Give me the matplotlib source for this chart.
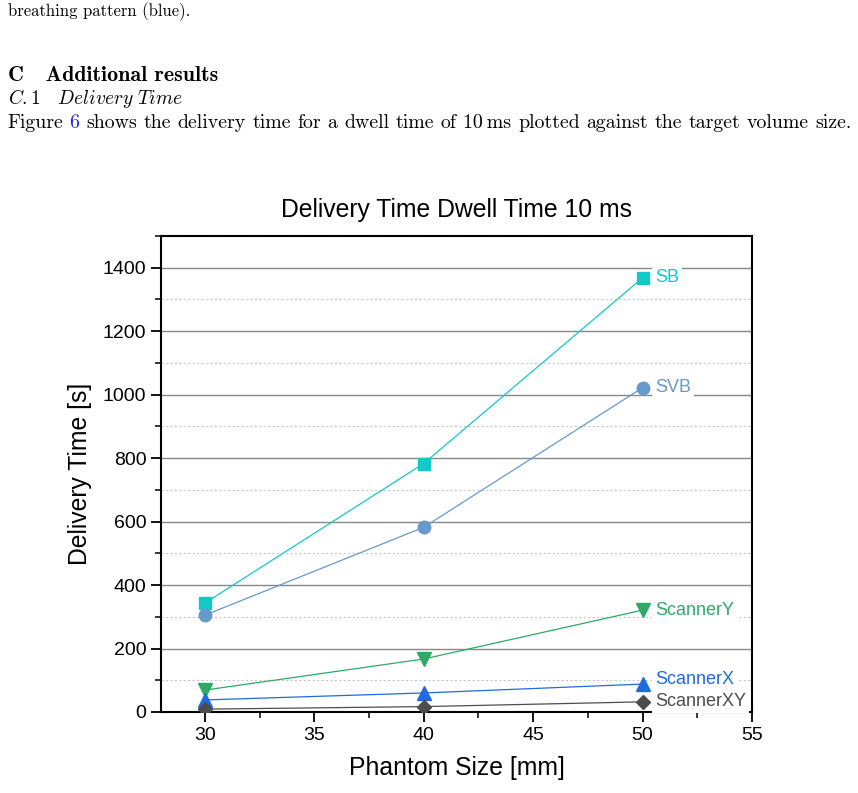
import numpy as np
import matplotlib
matplotlib.use("Agg")
import matplotlib.pyplot as plt
from matplotlib.ticker import MultipleLocator

plt.rcParams['font.family'] = ['Liberation Sans', 'DejaVu Sans']
plt.rcParams['mathtext.fontset'] = 'cm'

# data
sizes = [30, 40, 50]
series_names = ['SB', 'SVB', 'ScannerY', 'ScannerX', 'ScannerXY']
sb = [343, 783, 1368]
svb = [305, 582, 1022]
scanner_y = [69, 167, 321]
scanner_x = [38, 60, 88]
scanner_xy = [9, 17, 32]

colors = ['#14C8C8', '#6699CC', '#2EAA66', '#1F6BE0', '#4D4D4D']
markers = ['s', 'o', 'v', '^', 'D']
msizes = [8, 9, 9.5, 9.5, 7]
label_dy = [0, 0, 0, 3, 0]

W, H = 858, 793
fig = plt.figure(figsize=(W / 100, H / 100), dpi=100)
r = fig.canvas.get_renderer()

# page text above the figure
fig.text(8 / W, 1 - 16 / H, 'breathing pattern (blue).', family='cmr10', fontsize=12, va='baseline')
fig.text(8 / W, 1 - 81 / H, 'C   Additional results', family='cmb10', fontsize=15.8, va='baseline')
fig.text(8 / W, 1 - 104 / H, r'$\mathit{C.1\ \ \ Delivery\ Time}$', fontsize=14, va='baseline')

# justified body line
body = 14.3
words = ['Figure', '6', 'shows', 'the', 'delivery', 'time', 'for', 'a', 'dwell', 'time', 'of',
         '10\u2009ms', 'plotted', 'against', 'the', 'target', 'volume', 'size.']
arts = []
for w in words:
    t = fig.text(0, 1 - 128 / H, w, family=['cmr10', 'DejaVu Serif'], fontsize=body, va='baseline',
                 color='#2020E0' if w == '6' else 'black')
    arts.append(t)
widths = [a.get_window_extent(r).width for a in arts]
gap = (852 - 7 - sum(widths)) / (len(words) - 1)
x = 7
for a, wd in zip(arts, widths):
    a.set_x(x / W)
    x += wd + gap

ax = fig.add_axes([161 / W, 1 - 712 / H, 591 / W, 476 / H])

all_series = [sb, svb, scanner_y, scanner_x, scanner_xy]
for name, vals, c, m, ms, dy in zip(series_names, all_series, colors, markers, msizes, label_dy):
    ax.plot(sizes, vals, color=c, lw=0.9, marker=m, markersize=ms, zorder=3)
    ax.annotate(name, (sizes[-1], vals[-1]), xytext=(9, dy), textcoords='offset points',
                color=c, fontsize=13, va='center', ha='left', zorder=4,
                bbox=dict(boxstyle='square,pad=0.15', fc='white', ec='none'))

ax.set_xlim(28, 55)
ax.set_ylim(0, 1500)
ax.xaxis.set_major_locator(MultipleLocator(5))
ax.xaxis.set_minor_locator(MultipleLocator(2.5))
ax.yaxis.set_major_locator(MultipleLocator(200))
ax.yaxis.set_minor_locator(MultipleLocator(100))
ax.grid(which='major', axis='y', color='#888888', lw=1.0)
ax.grid(which='minor', axis='y', color='#c8c8c8', lw=0.8, ls=(0, (2, 2)))
ax.set_axisbelow(True)

ax.tick_params(which='major', direction='out', length=7, width=1.3, labelsize=14)
ax.tick_params(which='minor', direction='out', length=4, width=1.1)
for s in ax.spines.values():
    s.set_linewidth(1.5)

ax.set_title('Delivery Time Dwell Time 10 ms', fontsize=17.8, pad=14)
ax.set_xlabel('Phantom Size [mm]', fontsize=17.8, labelpad=9)
ax.set_ylabel('Delivery Time [s]', fontsize=17.8, labelpad=8)

fig.savefig('out.png', dpi=100)
